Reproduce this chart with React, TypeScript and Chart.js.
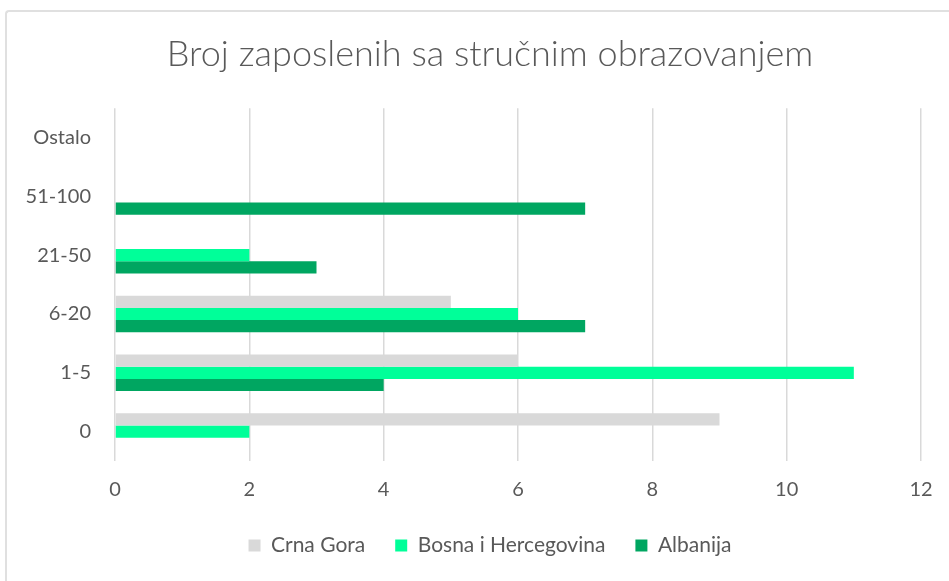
import React, { useEffect, useRef } from "react";
import { Chart, registerables } from "chart.js";

Chart.register(...registerables);

const categories = ["Ostalo", "51-100", "21-50", "6-20", "1-5", "0"];
const crnaGora = [0, 0, 0, 5, 6, 9];
const bosnaIHercegovina = [0, 0, 2, 6, 11, 2];
const albanija = [0, 7, 3, 7, 4, 0];
const seriesNames = ["Crna Gora", "Bosna i Hercegovina", "Albanija"];
const xTicks = [0, 2, 4, 6, 8, 10, 12];
const titleText = "Broj zaposlenih sa stručnim obrazovanjem";

const FONT = "Lato, 'Open Sans', sans-serif";
const TEXT = "#595959";

export default function App() {
  const ref = useRef<HTMLCanvasElement | null>(null);

  useEffect(() => {
    if (!ref.current) return;
    const chart = new Chart(ref.current, {
      type: "bar",
      data: {
        labels: categories,
        datasets: [
          { label: seriesNames[0], data: crnaGora, backgroundColor: "#D9D9D9" },
          { label: seriesNames[1], data: bosnaIHercegovina, backgroundColor: "#00FF99" },
          { label: seriesNames[2], data: albanija, backgroundColor: "#00A661" },
        ],
      },
      options: {
        indexAxis: "y",
        responsive: false,
        animation: false,
        datasets: { bar: { barPercentage: 1, categoryPercentage: 0.62 } },
        layout: { padding: { left: 10, right: -21, top: 0, bottom: 15 } },
        plugins: {
          title: {
            display: true,
            text: titleText,
            color: TEXT,
            font: { family: FONT, size: 36, weight: "300" as any, lineHeight: 1.2 },
            padding: { top: 33, bottom: 32 },
          },
          legend: {
            position: "bottom",
            labels: {
              color: TEXT,
              font: { family: FONT, size: 21, lineHeight: 1.2 },
              boxWidth: 12,
              boxHeight: 12,
              padding: 30,
            },
          },
          tooltip: { enabled: false },
        },
        scales: {
          x: {
            min: 0,
            max: 12,
            afterFit: (s: any) => {
              s.height = 44;
              s.paddingRight = 28;
            },
            afterBuildTicks: (s: any) => {
              s.ticks = xTicks.map((v) => ({ value: v }));
            },
            grid: { color: "#D9D9D9", lineWidth: 1.5, drawTicks: false },
            border: { display: false },
            ticks: {
              color: TEXT,
              font: { family: FONT, size: 20 },
              padding: 17,
            },
          },
          y: {
            afterFit: (s: any) => {
              s.width = 105;
            },
            grid: { display: false, drawTicks: false },
            border: { display: false },
            ticks: {
              color: TEXT,
              font: { family: FONT, size: 20 },
              padding: 24,
            },
          },
        },
      },
    });
    return () => chart.destroy();
  }, []);

  return (
    <div style={{ position: "fixed", left: 0, top: 0, width: 949, height: 581, background: "#fff", overflow: "hidden" }}>
      <div
        style={{
          position: "absolute",
          left: 5,
          top: 10,
          width: 960,
          height: 600,
          borderTop: "2px solid #E0E0E0",
          borderLeft: "2px solid #E0E0E0",
          borderRadius: 4,
        }}
      />
      <canvas ref={ref} width={949} height={581} style={{ position: "absolute", left: 0, top: 0 }} />
    </div>
  );
}
